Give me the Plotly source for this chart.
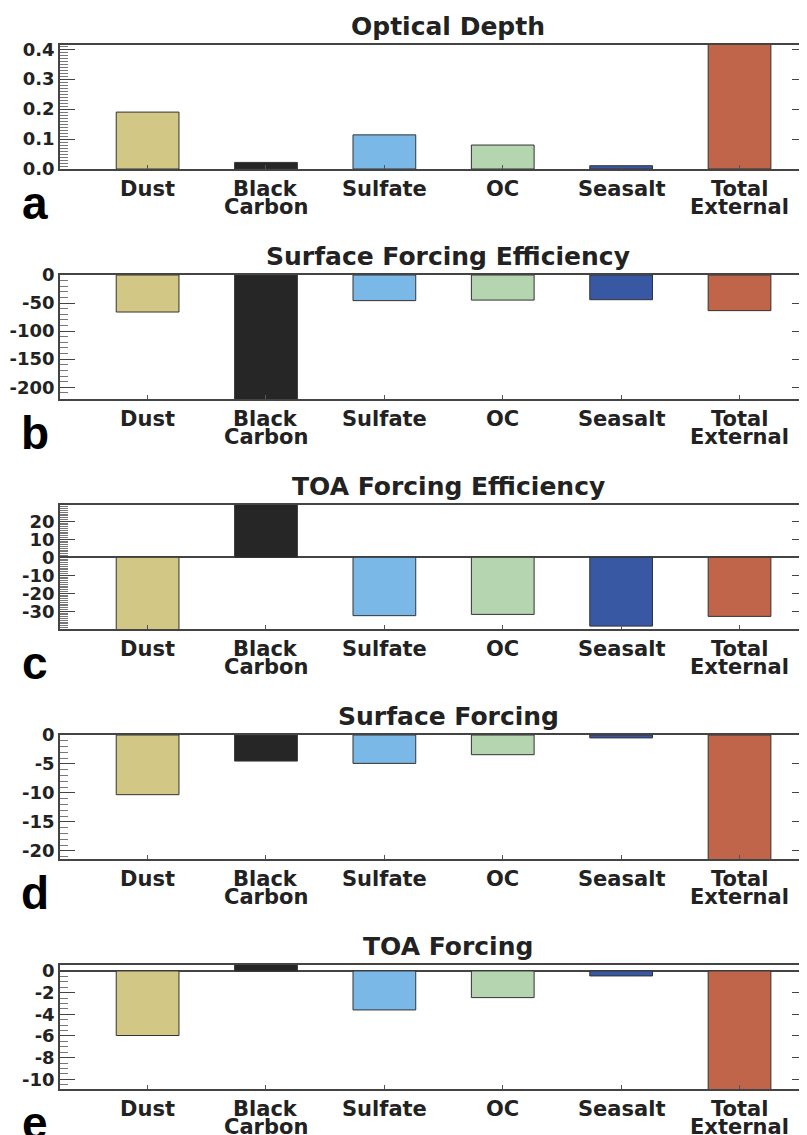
import plotly.graph_objects as go

# ---------------- data ----------------
categories = ["Dust", "Black Carbon", "Sulfate", "OC", "Seasalt", "Total External"]
label_line1 = ["Dust", "Black", "Sulfate", "OC", "Seasalt", "Total"]
label_line2 = ["", "Carbon", "", "", "", "External"]
colors = ["#D2C785", "#262626", "#7AB8E8", "#B4D5B0", "#3858A4", "#C0654A"]

titles = ["Optical Depth", "Surface Forcing Efficiency", "TOA Forcing Efficiency",
          "Surface Forcing", "TOA Forcing"]
panel_letters = ["a", "b", "c", "d", "e"]

optical_depth = [0.190, 0.022, 0.114, 0.080, 0.011, 0.417]
surface_forcing_eff = [-66.0, -250.0, -45.7, -44.7, -44.0, -63.5]
toa_forcing_eff = [-42.0, 32.0, -32.4, -31.7, -38.2, -32.8]
surface_forcing = [-10.3, -4.5, -4.9, -3.4, -0.5, -23.6]
toa_forcing = [-5.96, 0.6, -3.6, -2.46, -0.46, -12.5]

series = [optical_depth, surface_forcing_eff, toa_forcing_eff, surface_forcing, toa_forcing]

y_ranges = [[0, 0.414], [-221, 0], [-39.8, 29], [-21.4, 0], [-10.9, 0.55]]
tick_vals = [
    [0.0, 0.1, 0.2, 0.3, 0.4],
    [0, -50, -100, -150, -200],
    [20, 10, 0, -10, -20, -30],
    [0, -5, -10, -15, -20],
    [0, -2, -4, -6, -8, -10],
]
tick_text = [
    ["0.0", "0.1", "0.2", "0.3", "0.4"],
    ["0", "-50", "-100", "-150", "-200"],
    ["20", "10", "0", "-10", "-20", "-30"],
    ["0", "-5", "-10", "-15", "-20"],
    ["0", "-2", "-4", "-6", "-8", "-10"],
]
minor_dtick = [0.01, 10, 1, 1, 0.5]
show_zero = [False, False, True, False, True]

# ---------------- layout geometry ----------------
OFF = 8                      # page body margin
W, H = 807 - OFF, 1135 - OFF
plot_tops = [45, 275, 505, 735, 965]   # page pixels
plot_h = 124
left_px = 60
x_range = [-0.74, 5.57]


def py(p):
    """page pixel row -> paper y"""
    return 1 - (p - OFF) / H


def px(p):
    """page pixel column -> paper x"""
    return (p - OFF) / W


FONT = "DejaVu Sans"
TXT = "#222222"

fig = go.Figure()
annotations = []
layout = dict(
    width=W, height=H,
    margin=dict(l=0, r=0, t=0, b=0, pad=0),
    paper_bgcolor="white", plot_bgcolor="white",
    showlegend=False,
    font=dict(family=FONT, color=TXT),
)

for i in range(5):
    n = "" if i == 0 else str(i + 1)
    xa, ya = "x" + n, "y" + n
    top, bot = plot_tops[i], plot_tops[i] + plot_h
    fig.add_trace(go.Bar(
        x=list(range(len(categories))), y=series[i],
        marker=dict(color=colors, line=dict(color="#333333", width=1)),
        width=0.53, xaxis=xa, yaxis=ya,
        hovertext=categories, name=titles[i],
    ))
    layout["xaxis" + n] = dict(
        domain=[px(left_px), 1.0], range=x_range, anchor=ya, automargin=False,
        showticklabels=False, showgrid=False, zeroline=False,
        showline=True, linecolor="#444444", linewidth=1.8, mirror=True,
        ticks="inside", ticklen=4, tickcolor="#555555",
        tickvals=list(range(len(categories))),
    )
    layout["yaxis" + n] = dict(
        domain=[py(bot), py(top)], range=y_ranges[i], anchor=xa, automargin=False,
        tickvals=tick_vals[i], ticktext=tick_text[i],
        tickfont=dict(family=FONT, size=18, color=TXT, weight="bold"),
        showgrid=False,
        zeroline=show_zero[i], zerolinecolor="#444444", zerolinewidth=1.5,
        showline=True, linecolor="#444444", linewidth=1.5, mirror="ticks",
        ticks="inside", ticklen=15, tickwidth=1.2, tickcolor="#444444",
        minor=dict(dtick=minor_dtick[i], ticks="inside", ticklen=8,
                   tickwidth=1, tickcolor="#777777", showgrid=False),
        ticklabelstandoff=0,
    )
    # title
    annotations.append(dict(
        text=titles[i], xref="paper", yref="paper",
        x=px(448), y=py(top - 19), xanchor="center", yanchor="middle",
        showarrow=False, font=dict(family=FONT, size=25, color=TXT, weight="bold"),
    ))
    # category labels
    for k in range(len(categories)):
        annotations.append(dict(
            text=label_line1[k], xref=xa, yref="paper",
            x=k, y=py(bot + 20), xanchor="center", yanchor="middle",
            showarrow=False, font=dict(family=FONT, size=21, color=TXT, weight="bold"),
        ))
        if label_line2[k]:
            annotations.append(dict(
                text=label_line2[k], xref=xa, yref="paper",
                x=k, y=py(bot + 38), xanchor="center", yanchor="middle",
                showarrow=False, font=dict(family=FONT, size=21, color=TXT, weight="bold"),
            ))
    # panel letter
    annotations.append(dict(
        text=panel_letters[i], xref="paper", yref="paper",
        x=px(35), y=py(bot + 34), xanchor="center", yanchor="middle",
        showarrow=False, font=dict(family="Liberation Sans", size=46, color="#000000", weight="bold"),
    ))

layout["annotations"] = annotations
fig.update_layout(**layout)
fig.write_html("out.html")
